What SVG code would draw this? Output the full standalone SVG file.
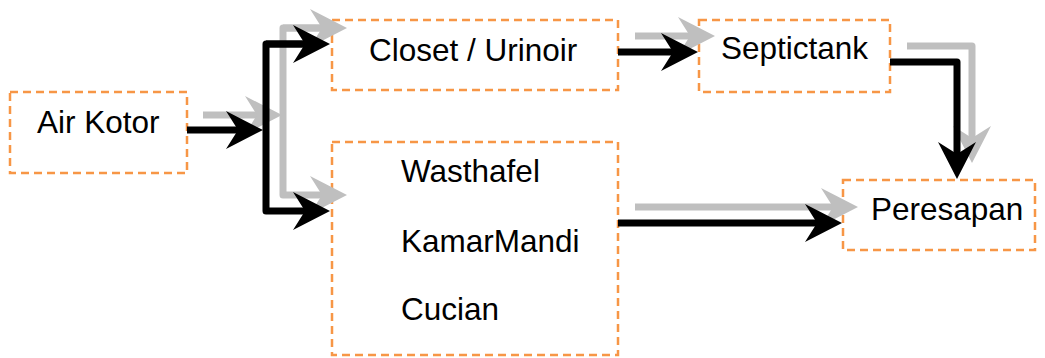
<svg xmlns="http://www.w3.org/2000/svg" width="1045" height="358" viewBox="0 0 1045 358">
  <defs>
    <style>
      .box { fill: #ffffff; stroke: #F79646; stroke-width: 2.5; stroke-dasharray: 8 5; }
      .label { font-family: "Liberation Sans", Arial, sans-serif; font-size: 31.5px; fill: #000000; }
      .flow { fill: none; stroke: #000000; stroke-width: 7; stroke-linejoin: round; }
      .shadow { fill: none; stroke: #BFBFBF; stroke-width: 7; stroke-linejoin: round; }
    </style>
    <marker id="head" markerUnits="userSpaceOnUse" markerWidth="1" markerHeight="1" refX="0" refY="0" orient="auto" overflow="visible">
      <path d="M18,0 L-19,-19 L-7,0 L-19,19 Z" fill="#000000"/>
    </marker>
    <marker id="head-shadow" markerUnits="userSpaceOnUse" markerWidth="1" markerHeight="1" refX="0" refY="0" orient="auto" overflow="visible">
      <path d="M18,0 L-19,-19 L-7,0 L-19,19 Z" fill="#BFBFBF"/>
    </marker>
  </defs>

  <g id="air-kotor">
    <rect class="box" x="10" y="92" width="177" height="81"/>
    <text class="label" x="37" y="133">Air Kotor</text>
  </g>

  <g id="closet-urinoir">
    <rect class="box" x="332" y="20" width="286" height="70"/>
    <text class="label" x="369" y="61">Closet / Urinoir</text>
  </g>

  <g id="septictank">
    <rect class="box" x="699" y="20" width="191" height="72"/>
    <text class="label" x="721" y="59">Septictank</text>
  </g>

  <g id="fixtures">
    <rect class="box" x="332" y="142" width="286" height="213"/>
    <text class="label" x="401" y="182">Wasthafel</text>
    <text class="label" x="401" y="252">KamarMandi</text>
    <text class="label" x="401" y="320">Cucian</text>
  </g>

  <g id="peresapan">
    <rect class="box" x="843" y="180" width="192" height="70"/>
    <text class="label" x="871" y="220">Peresapan</text>
  </g>

  <g id="connectors">
    <!-- drop shadows -->
    <path class="shadow" d="M203,115 H264" marker-end="url(#head-shadow)"/>
    <path class="shadow" d="M329,28 H283 V195 H329" marker-end="url(#head-shadow)"/>
    <path class="shadow" d="M283,28 H329" marker-end="url(#head-shadow)"/>
    <path class="shadow" d="M635,36 H697" marker-end="url(#head-shadow)"/>
    <path class="shadow" d="M907,46 H972 V145" marker-end="url(#head-shadow)"/>
    <path class="shadow" d="M635,207 H840" marker-end="url(#head-shadow)"/>

    <!-- flows -->
    <path class="flow" d="M187,130 H245" marker-end="url(#head)"/>
    <path class="flow" d="M312,44 H266 V211 H312" marker-end="url(#head)"/>
    <path class="flow" d="M266,44 H312" marker-end="url(#head)"/>
    <path class="flow" d="M618,52 H680" marker-end="url(#head)"/>
    <path class="flow" d="M890,62 H957 V161" marker-end="url(#head)"/>
    <path class="flow" d="M618,223 H824" marker-end="url(#head)"/>
  </g>
</svg>
